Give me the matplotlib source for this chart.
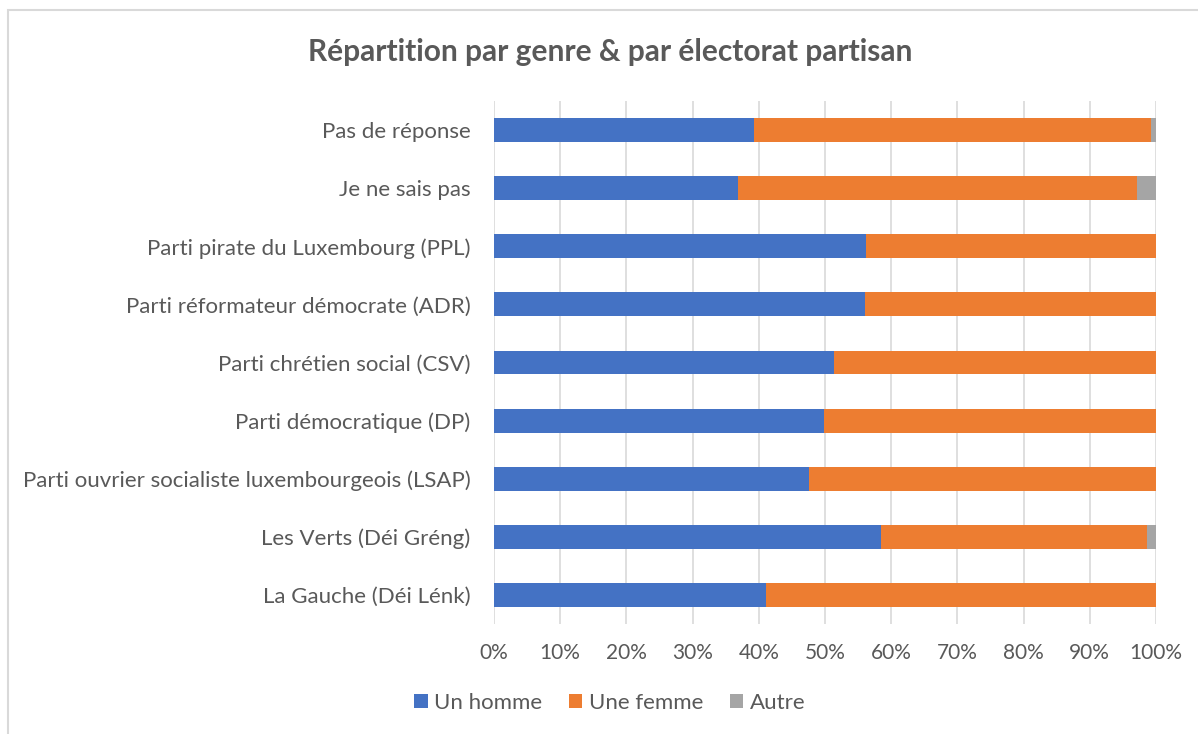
import numpy as np
import matplotlib
matplotlib.use('Agg')
import matplotlib.pyplot as plt
from matplotlib.patches import Rectangle

# data (in %)
parties = ['La Gauche (Déi Lénk)', 'Les Verts (Déi Gréng)',
           'Parti ouvrier socialiste luxembourgeois (LSAP)',
           'Parti démocratique (DP)', 'Parti chrétien social (CSV)',
           'Parti réformateur démocrate (ADR)',
           'Parti pirate du Luxembourg (PPL)',
           'Je ne sais pas', 'Pas de réponse']
homme = [41.1, 58.5, 47.6, 49.8, 51.4, 56.0, 56.2, 36.8, 39.3]
femme = [58.9, 40.2, 52.4, 50.2, 48.6, 44.0, 43.8, 60.3, 59.9]
autre = [0.0, 1.3, 0.0, 0.0, 0.0, 0.0, 0.0, 2.9, 0.8]
series_names = ['Un homme', 'Une femme', 'Autre']
colors = ['#4472C4', '#ED7D31', '#A5A5A5']

plt.rcParams['font.family'] = ['Lato', 'DejaVu Sans']
txt = '#595959'

fig = plt.figure(figsize=(11.98, 7.34), dpi=100)
# chart frame
fig.patches.append(Rectangle((8/1198, -0.01), 1.2, 1 - 10/734 + 0.01,
                             transform=fig.transFigure, fill=False,
                             edgecolor='#d9d9d9', lw=1.5))

ax = fig.add_axes([494/1198, 1 - 624/734, 662/1198, 523/734])
y = np.arange(len(parties))
left = np.zeros(len(parties))
for vals, name, c in zip([homme, femme, autre], series_names, colors):
    ax.barh(y, vals, left=left, height=0.41, color=c, label=name, zorder=3)
    left += np.array(vals)

ax.set_xlim(0, 100)
ax.set_ylim(-0.5, len(parties) - 0.5)
ax.set_xticks(np.arange(0, 101, 10))
ax.set_xticklabels(['%d%%' % v for v in range(0, 101, 10)])
ax.set_yticks(y)
ax.set_yticklabels(parties)
ax.tick_params(length=0, colors=txt)
ax.tick_params(axis='y', labelsize=16, pad=17)
ax.tick_params(axis='x', labelsize=15, pad=14)
ax.grid(axis='x', color='#d9d9d9', lw=1.2, zorder=0)
for s in ax.spines.values():
    s.set_visible(False)

fig.text(610/1198, 1 - 52/734, 'Répartition par genre & par électorat partisan',
         ha='center', va='center', fontsize=21.5, fontweight='bold', color=txt)

fig.legend(loc='center', bbox_to_anchor=(610/1198, 1 - 703/734), ncol=3,
           frameon=False, fontsize=16, handlelength=0.6, handleheight=0.6,
           handletextpad=0.3, columnspacing=1.2, labelcolor=txt)

fig.savefig('out.png', dpi=100)
